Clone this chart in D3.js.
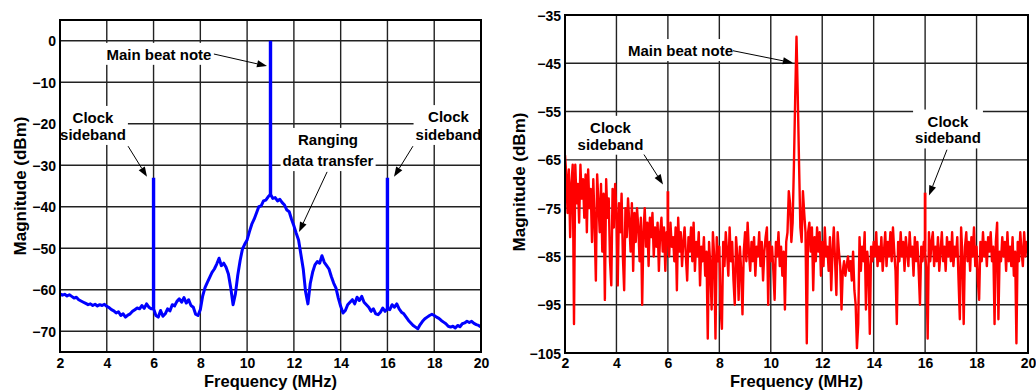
<!DOCTYPE html>
<html><head><meta charset="utf-8">
<script src="https://cdn.jsdelivr.net/npm/d3@7"></script>
<style>
body{margin:0;background:#fff}
svg{display:block}
text{font-family:"Liberation Sans",Arial,Helvetica,sans-serif;font-weight:bold;fill:#000}
</style>
</head><body>
<svg id="chart" width="1036" height="390"></svg>
<script>
// ---------- data ----------
const freqTicks = [2, 4, 6, 8, 10, 12, 14, 16, 18, 20];
const leftMagTicks = [0, -10, -20, -30, -40, -50, -60, -70];
const rightMagTicks = [-35, -45, -55, -65, -75, -85, -95, -105];

// left (blue) spectrum, sampled every 0.1 MHz from 2 MHz
const blueFreqStart = 2, blueFreqStep = 0.1;
const blueMag = [
  -61.0,-61.3,-61.1,-61.5,-61.2,-61.6,-62.0,-61.8,-62.4,-62.7,
  -63.0,-63.3,-63.6,-63.4,-63.8,-63.5,-63.9,-63.6,-63.8,-63.5,
  -64.0,-64.3,-64.8,-65.1,-65.6,-65.3,-66.2,-65.8,-66.6,-66.1,
  -65.8,-65.2,-64.8,-64.4,-64.6,-63.8,-64.5,-63.4,-64.2,-64.6,
  -64.5,-66.2,-66.6,-65.0,-66.4,-65.8,-64.6,-65.1,-63.6,-63.9,
  -62.8,-62.2,-63.0,-61.9,-63.2,-62.4,-63.8,-64.2,-65.9,-66.2,
  -64.8,-61.5,-59.5,-58.2,-57.0,-55.8,-55.0,-53.8,-52.4,-54.2,
  -53.6,-54.6,-56.2,-59.5,-63.6,-61.0,-56.5,-53.0,-50.2,-49.0,
  -48.0,-46.0,-44.2,-43.0,-41.5,-40.0,-39.8,-38.6,-38.4,-37.6,
  -37.0,-38.0,-37.8,-38.6,-38.2,-39.0,-39.6,-40.8,-41.2,-43.0,
  -44.6,-46.4,-48.0,-51.5,-55.0,-60.5,-63.4,-58.5,-55.8,-54.0,
  -53.2,-53.6,-51.8,-53.4,-54.2,-55.0,-56.8,-58.4,-59.6,-62.0,
  -64.0,-65.6,-65.0,-63.6,-63.0,-62.4,-63.4,-61.8,-62.6,-61.6,
  -63.0,-63.6,-64.2,-65.2,-64.6,-65.8,-66.0,-65.4,-64.4,-65.2,
  -64.6,-64.8,-63.6,-64.2,-63.4,-64.6,-65.4,-65.8,-66.6,-67.4,
  -68.0,-68.6,-69.0,-69.4,-68.4,-67.6,-67.0,-66.6,-66.2,-65.9,
  -66.2,-66.6,-66.9,-67.4,-67.8,-68.2,-68.8,-69.0,-68.8,-69.2,
  -68.6,-68.9,-68.2,-68.0,-67.6,-67.9,-67.6,-68.1,-68.4,-68.6,
  -69.0
];
const blueSpikeFreq = [6, 11, 16];
const blueSpikeMag = [-33, 0, -33];

// right (red) spectrum, sampled every 0.05 MHz from 2 MHz
const redFreqStart = 2, redFreqStep = 0.05;
const redMag = [
  -64,-68,-76,-67,-81,-70,-66,-99,-66,-74,-70,-78,-66,-73,-69,-77,-68,-80,-67,-75,
  -71,-82,-69,-78,-90,-68,-74,-80,-70,-84,-72,-94,-69,-77,-73,-86,-91,-71,-79,-70,
  -76,-91,-74,-80,-72,-85,-92,-75,-81,-73,-78,-84,-74,-88,-76,-82,-75,-79,-86,-77,
  -95,-80,-75,-83,-78,-87,-77,-81,-76,-85,-79,-83,-78,-88,-80,-77,-84,-79,-88,-80,
  -80,-85,-78,-83,-81,-86,-79,-92,-77,-84,-80,-87,-82,-79,-85,-90,-81,-84,-79,-86,
  -78,-88,-82,-85,-80,-91,-83,-86,-81,-89,-84,-102,-82,-87,-96,-80,-85,-102,-81,-86,
  -83,-96,-100,-82,-87,-80,-84,-89,-79,-86,-82,-90,-95,-81,-85,-94,-83,-88,-97,-84,
  -80,-86,-78,-84,-88,-82,-86,-81,-89,-83,-85,-80,-87,-82,-90,-84,-81,-79,-95,-82,
  -86,-83,-88,-94,-82,-85,-80,-87,-83,-89,-84,-96,-82,-80,-71.5,-74,-82,-78,-66,-52,
  -39.5,-52,-66,-79,-82,-71.5,-76,-80,-103,-80,-78,-84,-79,-92,-81,-86,-79,-84,-80,-89,
  -82,-87,-79,-85,-83,-88,-81,-92,-84,-79,-86,-93,-80,-84,-87,-96,-88,-86,-89,-87,
  -85,-88,-86,-90,-84,-92,-95,-104,-99,-81,-88,-83,-86,-80,-96,-84,-87,-101,-83,-86,
  -82,-85,-80,-87,-83,-86,-81,-88,-84,-80,-87,-82,-85,-80,-86,-79,-84,-88,-99,-82,
  -86,-80,-85,-82,-88,-81,-84,-87,-80,-85,-83,-89,-81,-86,-82,-88,-95,-83,-86,-82,
  -84,-88,-102,-80,-86,-82,-80,-87,-83,-86,-81,-88,-84,-80,-86,-83,-88,-81,-85,-82,
  -86,-80,-87,-83,-85,-81,-90,-98,-79,-85,-99,-83,-80,-86,-82,-88,-81,-85,-79,-87,
  -83,-90,-94,-82,-86,-80,-85,-82,-87,-81,-84,-80,-86,-83,-99,-82,-78,-98,-84,-86,
  -81,-85,-82,-88,-80,-86,-83,-87,-81,-89,-84,-103,-82,-86,-80,-84,-87,-80,-85,-82,
  -83
];
const redSpikeFreq = [6, 16];
const redSpikeMag = [-71.5, -71.8];

// annotations (text anchored in data coordinates, arrows from -> to in data coordinates)
const leftNotes = [
  {lines:["Main beat note"], f:6.23, m:[-4.6], from:[8.58,-3.2], to:[10.85,-6.1]},
  {lines:["Clock","sideband"], f:3.41, m:[-19.8,-23.9], from:[4.91,-25.4], to:[5.72,-32.8]},
  {lines:["Ranging","data transfer"], f:13.46, m:[-25.1,-30.2], from:[13.42,-31.6], to:[12.22,-46.1]},
  {lines:["Clock","sideband"], f:18.61, m:[-19.6,-23.9], from:[17.09,-25.4], to:[16.28,-32.8]}
];
const rightNotes = [
  {lines:["Main beat note"], f:6.49, m:[-43.5], from:[8.53,-42.4], to:[10.86,-44.9]},
  {lines:["Clock","sideband"], f:3.77, m:[-59.4,-62.9], from:[5.07,-63.9], to:[5.81,-70.1]},
  {lines:["Clock","sideband"], f:16.89, m:[-58.1,-61.6], from:[16.85,-62.9], to:[16.15,-72.4]}
];

// ---------- drawing ----------
const svg = d3.select("#chart");
const fmt = d => (d < 0 ? "\u2212" + Math.abs(d) : String(d));

function panel(cfg) {
  const x = d3.scaleLinear().domain([2, 20]).range([cfg.left, cfg.right]);
  const y = d3.scaleLinear().domain(cfg.yDomain).range([cfg.bottom, cfg.top]);
  const g = svg.append("g");
  const clipId = "clip" + cfg.id;
  svg.append("clipPath").attr("id", clipId).append("rect")
    .attr("x", cfg.left).attr("y", cfg.top)
    .attr("width", cfg.right - cfg.left).attr("height", cfg.bottom - cfg.top);

  // grid
  g.append("g").selectAll("line").data(freqTicks).join("line")
    .attr("x1", d => x(d)).attr("x2", d => x(d))
    .attr("y1", cfg.top).attr("y2", cfg.bottom)
    .attr("stroke", "#222").attr("stroke-width", 1.4);
  g.append("g").selectAll("line").data(cfg.yTicks).join("line")
    .attr("x1", cfg.left).attr("x2", cfg.right)
    .attr("y1", d => y(d)).attr("y2", d => y(d))
    .attr("stroke", "#222").attr("stroke-width", 1.4);

  // series
  const pts = cfg.mag.map((m, i) => [cfg.start + i * cfg.step, m]);
  const line = d3.line().x(d => x(d[0])).y(d => y(d[1]));
  const sg = g.append("g").attr("clip-path", `url(#${clipId})`);
  sg.append("path").datum(pts).attr("d", line)
    .attr("fill", "none").attr("stroke", cfg.color)
    .attr("stroke-width", cfg.width).attr("stroke-linejoin", "round");
  const spikes = cfg.spikeFreq.map((f, i) => {
    const idx = Math.round((f - cfg.start) / cfg.step);
    return [[f, cfg.mag[idx]], [f, cfg.spikeMag[i]]];
  });
  sg.selectAll("path.spike").data(spikes).join("path").attr("class", "spike")
    .attr("d", line).attr("fill", "none").attr("stroke", cfg.color)
    .attr("stroke-width", cfg.width + 0.4);

  // annotations
  cfg.notes.forEach(n => {
    const tg = g.append("g");
    n.lines.forEach((t, i) => tg.append("text")
      .attr("x", x(n.f)).attr("y", y(n.m[i]))
      .attr("text-anchor", "middle").attr("font-size", 15).text(t));
    const bb = tg.node().getBBox();
    tg.insert("rect", "text").attr("x", bb.x - 2).attr("y", bb.y - 3)
      .attr("width", bb.width + 4).attr("height", bb.height + 5).attr("fill", "#fff");
    const x1 = x(n.from[0]), y1 = y(n.from[1]), x2 = x(n.to[0]), y2 = y(n.to[1]);
    const ang = Math.atan2(y2 - y1, x2 - x1), L = 10, W = 3.6;
    const bx = x2 - L * Math.cos(ang), by = y2 - L * Math.sin(ang);
    g.append("line").attr("x1", x1).attr("y1", y1).attr("x2", bx).attr("y2", by)
      .attr("stroke", "#000").attr("stroke-width", 1);
    g.append("path").attr("d", `M${x2},${y2}L${bx - W * Math.sin(ang)},${by + W * Math.cos(ang)}L${bx + W * Math.sin(ang)},${by - W * Math.cos(ang)}Z`)
      .attr("fill", "#000");
  });

  // frame
  g.append("rect").attr("x", cfg.left).attr("y", cfg.top)
    .attr("width", cfg.right - cfg.left).attr("height", cfg.bottom - cfg.top)
    .attr("fill", "none").attr("stroke", "#000").attr("stroke-width", 2);

  // axes labels
  const xa = d3.axisBottom(x).tickValues(freqTicks).tickSize(0).tickPadding(0).tickFormat(d => d);
  const xg = g.append("g").attr("transform", `translate(0,${cfg.bottom})`).call(xa);
  xg.select(".domain").remove();
  xg.attr("font-family", null).attr("font-size", null);
  xg.selectAll("text").attr("font-size", 14).attr("dy", null).attr("y", 368 - cfg.bottom).attr("fill", "#000");
  const ya = d3.axisLeft(y).tickValues(cfg.yTicks).tickSize(0).tickPadding(0).tickFormat(fmt);
  const yg = g.append("g").attr("transform", `translate(${cfg.left - 4},0)`).call(ya);
  yg.select(".domain").remove();
  yg.attr("font-family", null).attr("font-size", null);
  yg.selectAll("text").attr("font-size", 14).attr("dy", "0.36em").attr("x", 0).attr("fill", "#000");

  g.append("text").attr("x", (cfg.left + cfg.right) / 2).attr("y", 387)
    .attr("text-anchor", "middle").attr("font-size", 16.5).text("Frequency (MHz)");
  g.append("text").attr("transform", `translate(${cfg.yTitleX},${cfg.yTitleY}) rotate(-90)`)
    .attr("text-anchor", "middle").attr("font-size", 17).text("Magnitude (dBm)");
}

panel({id: "L", left: 60, right: 481, top: 20, bottom: 352, yDomain: [-75, 5], yTicks: leftMagTicks,
  start: blueFreqStart, step: blueFreqStep, mag: blueMag, spikeFreq: blueSpikeFreq, spikeMag: blueSpikeMag,
  color: "#0000ff", width: 3, notes: leftNotes, yTitleX: 26, yTitleY: 186});
panel({id: "R", left: 565, right: 1028, top: 15, bottom: 353, yDomain: [-105, -35], yTicks: rightMagTicks,
  start: redFreqStart, step: redFreqStep, mag: redMag, spikeFreq: redSpikeFreq, spikeMag: redSpikeMag,
  color: "#ff0000", width: 2.4, notes: rightNotes, yTitleX: 525, yTitleY: 182});
</script>
</body></html>
